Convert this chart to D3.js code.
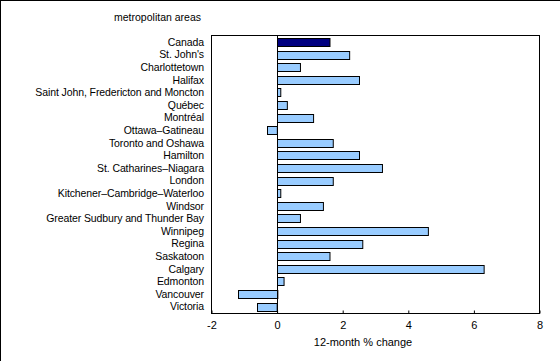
<!DOCTYPE html>
<html>
<head>
<meta charset="utf-8">
<script src="https://cdn.jsdelivr.net/npm/d3@7"></script>
<style>
  body { margin: 0; background: #fff; }
  svg { display: block; font-family: "Liberation Sans", Arial, sans-serif; }
</style>
</head>
<body>
<div class="chart-area"></div>
<script>
// metropolitan areas, 12-month % change
const areas = ["Canada", "St. John's", "Charlottetown", "Halifax",
  "Saint John, Fredericton and Moncton", "Québec", "Montréal", "Ottawa–Gatineau",
  "Toronto and Oshawa", "Hamilton", "St. Catharines–Niagara", "London",
  "Kitchener–Cambridge–Waterloo", "Windsor", "Greater Sudbury and Thunder Bay",
  "Winnipeg", "Regina", "Saskatoon", "Calgary", "Edmonton", "Vancouver", "Victoria"];
const change = [1.6, 2.2, 0.7, 2.5, 0.1, 0.3, 1.1, -0.3, 1.7, 2.5, 3.2, 1.7,
  0.1, 1.4, 0.7, 4.6, 2.6, 1.6, 6.3, 0.2, -1.2, -0.6];
const xTicks = [-2, 0, 2, 4, 6, 8];

let data = areas.map((d, i) => ({name: d, value: change[i]}));

let width = 560;
let height = 361;
let plotLeft = 211.5, plotRight = 539.5, plotTop = 35.5, plotBottom = 313.5;

const svg = d3.select(".chart-area").append("svg")
  .attr("width", width)
  .attr("height", height);

// outer frame (top + left only)
svg.append("line").attr("x1", 0).attr("x2", width).attr("y1", 0.5).attr("y2", 0.5).attr("stroke", "#000");
svg.append("line").attr("x1", 0.5).attr("x2", 0.5).attr("y1", 0).attr("y2", height).attr("stroke", "#000");

const x = d3.scaleLinear()
  .domain([-2, 8])
  .range([plotLeft, plotRight]);

const y = d3.scaleBand()
  .domain(areas)
  .range([plotTop, plotBottom])
  .paddingInner(0.34)
  .paddingOuter(0.2);

// plot box
svg.append("rect")
  .attr("x", plotLeft).attr("y", plotTop)
  .attr("width", plotRight - plotLeft).attr("height", plotBottom - plotTop)
  .attr("fill", "none").attr("stroke", "#000");

// bars
svg.selectAll(".bar")
  .data(data)
  .join("rect")
  .attr("class", "bar")
  .attr("x", d => Math.round(x(Math.min(0, d.value))) + 0.5)
  .attr("y", d => Math.round(y(d.name)) + 0.5)
  .attr("width", d => Math.abs(x(d.value) - x(0)))
  .attr("height", Math.round(y.bandwidth()))
  .attr("fill", d => d.name == "Canada" ? "#000080" : "#99ccff")
  .attr("stroke", "#000")
  .attr("stroke-width", 1);

// zero line
svg.append("line")
  .attr("x1", Math.round(x(0)) + 0.5).attr("x2", Math.round(x(0)) + 0.5)
  .attr("y1", plotTop).attr("y2", plotBottom)
  .attr("stroke", "#000");

// x axis, ticks point inward
const xAxis = svg.append("g")
  .attr("transform", `translate(0,${plotBottom})`)
  .call(d3.axisBottom(x).tickValues(xTicks).tickFormat(d => String(d))
    .tickSizeInner(-3).tickSizeOuter(0).tickPadding(8));
xAxis.select(".domain").remove();
xAxis.selectAll("line").attr("stroke", "#000");
xAxis.selectAll("text")
  .attr("font-size", 11)
  .attr("font-family", "Liberation Sans, Arial, sans-serif")
  .attr("fill", "#000");

// category labels
svg.append("g")
  .selectAll("text")
  .data(areas)
  .join("text")
  .attr("x", 204)
  .attr("y", d => y(d) + y.bandwidth() / 2)
  .attr("dy", "0.35em")
  .attr("text-anchor", "end")
  .attr("font-size", 10.5)
  .attr("letter-spacing", -0.1)
  .text(d => d);

svg.append("text")
  .attr("x", 201)
  .attr("y", 21)
  .attr("text-anchor", "end")
  .attr("font-size", 10.5)
  .text("metropolitan areas");

svg.append("text")
  .attr("x", 363)
  .attr("y", 346)
  .attr("text-anchor", "middle")
  .attr("font-size", 11)
  .text("12-month % change");
</script>
</body>
</html>
